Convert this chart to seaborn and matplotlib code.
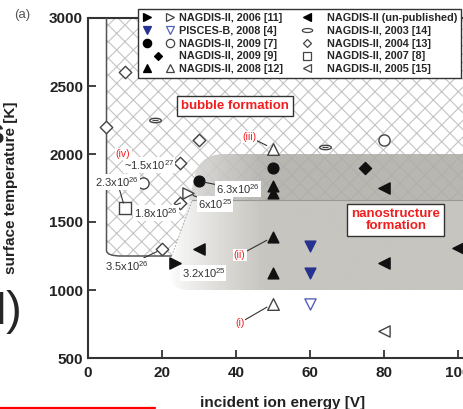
import numpy as np
import matplotlib.pyplot as plt
import seaborn as sns
from matplotlib.path import Path
from matplotlib.patches import PathPatch, Rectangle
from matplotlib.lines import Line2D
from matplotlib.legend_handler import HandlerTuple
from matplotlib.colors import LinearSegmentedColormap

# --- data (incident ion energy [V], surface temperature [K]) ---
n2006_fill_x, n2006_fill_y = [23.5], [1200]
n2006_open_x, n2006_open_y = [27], [1710]
pisces_fill_x, pisces_fill_y = [60, 60], [1320, 1125]
pisces_open_x, pisces_open_y = [60], [900]
n2009a_fill_x, n2009a_fill_y = [30, 50], [1800, 1895]
n2009a_open_x, n2009a_open_y = [15, 80], [1790, 2100]
n2009b_x, n2009b_y = [75], [1900]
n2008_fill_x, n2008_fill_y = [50, 50, 50, 50], [1765, 1715, 1390, 1125]
n2008_open_x, n2008_open_y = [50, 50], [2040, 900]
unpub_x, unpub_y = [30, 80, 80, 100], [1300, 1750, 1200, 1310]
n2003_x, n2003_y = [18, 64], [2250, 2050]
n2004_x, n2004_y = [10, 5, 30, 25, 25, 20], [2600, 2200, 2100, 1935, 1640, 1300]
n2007_x, n2007_y = [10], [1600]
n2005_x, n2005_y = [80], [700]

legend_col1 = ["NAGDIS-II, 2006 [11]", "PISCES-B, 2008 [4]", "NAGDIS-II, 2009 [7]",
               "NAGDIS-II, 2009 [9]", "NAGDIS-II, 2008 [12]"]
legend_col2 = ["NAGDIS-II (un-published)", "NAGDIS-II, 2003 [14]", "NAGDIS-II, 2004 [13]",
               "NAGDIS-II, 2007 [8]", "NAGDIS-II, 2005 [15]"]

# flux labels: text, text position, marker position
flux_labels = [
    ("~1.5x10$^{27}$", (16.5, 1920), None),
    ("2.3x10$^{26}$", (7.9, 1795), (10, 1600)),
    ("1.8x10$^{26}$", (18.4, 1567), (25, 1640)),
    ("6x10$^{25}$", (34.3, 1633), (27, 1710)),
    ("6.3x10$^{26}$", (40.6, 1743), (30, 1800)),
    ("3.5x10$^{26}$", (10.5, 1177), (20, 1300)),
    ("3.2x10$^{25}$", (31.2, 1126), (23.5, 1200)),
]
case_labels = [
    ("(iv)", (9.5, 2000), None),
    ("(iii)", (43.6, 2125), (50, 2040)),
    ("(ii)", (41, 1258), (50, 1390)),
    ("(i)", (41, 758), (50, 900)),
]

sns.set_style("ticks")
plt.rcParams['font.family'] = ['Liberation Sans', 'DejaVu Sans']
plt.rcParams['mathtext.fontset'] = 'custom'
plt.rcParams['mathtext.rm'] = 'Liberation Sans'
plt.rcParams['hatch.linewidth'] = 0.8

fig = plt.figure(figsize=(4.64, 4.09), dpi=100)
ax = fig.add_axes([88 / 464, 51 / 409, 388.5 / 464, 340 / 409])

RED = '#f01e1e'
DARK = '#222222'
BLUE = '#27318f'

# bubble formation region (cross hatched), drawn under the grey region
bub_path = Path(
    [(5, 3100), (5, 1290), (5, 1250), (9, 1250), (22.6, 1250), (28.2, 1660),
     (140, 1660), (140, 3100), (5, 3100)],
    [Path.MOVETO, Path.LINETO, Path.CURVE3, Path.CURVE3, Path.LINETO, Path.LINETO,
     Path.LINETO, Path.LINETO, Path.CLOSEPOLY])
ax.add_patch(PathPatch(bub_path, facecolor='none', edgecolor='#c4c4c4', lw=0,
                       hatch='xx', zorder=0.5))

# nanostructure region (gradient, rounded left side)
nano_path = Path(
    [(22.2, 1150), (21.6, 1000), (27, 1000), (140, 1000), (140, 2000),
     (37, 2000), (29.2, 2000), (28.5, 1790), (22.2, 1150)],
    [Path.MOVETO, Path.CURVE3, Path.CURVE3, Path.LINETO, Path.LINETO,
     Path.LINETO, Path.CURVE3, Path.CURVE3, Path.CLOSEPOLY])
nano_patch = PathPatch(nano_path, facecolor='none', edgecolor='none', zorder=1)
ax.add_patch(nano_patch)
cmap = LinearSegmentedColormap.from_list('g', ['#ffffff', '#bfbdb7'])
gx = np.linspace(20, 110, 400)
ramp = np.clip((gx - 22) / 26, 0, 1) ** 0.8
img = ax.imshow(ramp[None, :], extent=(20, 110, 1000, 2000), cmap=cmap, vmin=0, vmax=1,
                aspect='auto', origin='lower', interpolation='bilinear', zorder=1, alpha=0.88)
img.set_clip_path(nano_patch)

band = Rectangle((20, 1660), 120, 340, facecolor='black', alpha=0.07, lw=0, zorder=2)
ax.add_patch(band)
band.set_clip_path(nano_patch)
ax.plot([28.2, 140], [1660, 1660], color='#9a9893', lw=0.8, zorder=2)
ax.plot([22.6, 28.2], [1250, 1660], color='#a0a0a0', lw=0.6, ls=(0, (2, 2)), zorder=2)
out = Path([(22.6, 1250), (9, 1250), (5, 1250), (5, 1290), (5, 3000)],
           [Path.MOVETO, Path.LINETO, Path.CURVE3, Path.CURVE3, Path.LINETO])
ax.add_patch(PathPatch(out, facecolor='none', edgecolor='#555555', lw=1.1, zorder=3))

# markers
t = np.linspace(0, 2 * np.pi, 25)
flat = Path(np.column_stack([np.cos(t), 0.38 * np.sin(t)]), closed=True)
series = [
    (n2006_fill_x, n2006_fill_y, '>', '#111111', '#111111', 65),
    (n2006_open_x, n2006_open_y, '>', 'white', '#444444', 65),
    (pisces_fill_x, pisces_fill_y, 'v', BLUE, BLUE, 60),
    (pisces_open_x, pisces_open_y, 'v', 'white', '#5560b8', 65),
    (n2009a_fill_x, n2009a_fill_y, 'o', '#111111', '#111111', 60),
    (n2009a_open_x, n2009a_open_y, 'o', 'white', '#444444', 65),
    (n2009b_x, n2009b_y, 'D', '#111111', '#111111', 38),
    (n2008_fill_x, n2008_fill_y, '^', '#111111', '#111111', 60),
    (n2008_open_x, n2008_open_y, '^', 'white', '#444444', 70),
    (unpub_x, unpub_y, '<', '#111111', '#111111', 65),
    (n2003_x, n2003_y, flat, 'white', '#444444', 70),
    (n2004_x, n2004_y, 'D', 'white', '#444444', 40),
    (n2007_x, n2007_y, 's', 'white', '#444444', 70),
    (n2005_x, n2005_y, '<', 'white', '#444444', 65),
]
for xs, ys, m, fc, ec, s in series:
    sns.scatterplot(x=xs, y=ys, marker=m, color=fc, edgecolor=ec, linewidth=1.0,
                    s=s, ax=ax, zorder=5, legend=False)
# centre stroke of the flat 2003 markers
sns.scatterplot(x=n2003_x, y=n2003_y, marker='_', color='#444444', linewidth=0.9,
                s=25, ax=ax, zorder=5.5, legend=False)

# annotations
for txt, pos, tip in flux_labels:
    kw = dict(arrowprops=dict(arrowstyle='-', color='#333333', lw=0.8, shrinkA=0, shrinkB=4)) if tip else {}
    ax.annotate(txt, xy=tip if tip else pos, xytext=pos, ha='center', va='center',
                fontsize=8, color='#333333', zorder=6,
                bbox=dict(boxstyle='square,pad=0.1', fc='white', ec='none'), **kw)
for txt, pos, tip in case_labels:
    kw = dict(arrowprops=dict(arrowstyle='-', color='#333333', lw=0.8, shrinkA=0, shrinkB=5)) if tip else {}
    ax.annotate(txt, xy=tip if tip else pos, xytext=pos, ha='center', va='center',
                fontsize=7.5, color=RED, zorder=6,
                bbox=dict(boxstyle='square,pad=0.1', fc='white', ec='none'), **kw)

ax.text(39.7, 2353, "bubble formation", color=RED, fontsize=9.5, weight='bold',
        ha='center', va='center', zorder=6,
        bbox=dict(boxstyle='square,pad=0.3', fc='white', ec='#333333', lw=1))
ax.text(83.2, 1515, "nanostructure\nformation", color=RED, fontsize=9.5, weight='bold',
        ha='center', va='center', linespacing=1.05, zorder=6,
        bbox=dict(boxstyle='square,pad=0.3', fc='white', ec='#333333', lw=1))

# legend
def mk(m, fc, ec, ms=6):
    return Line2D([], [], ls='none', marker=m, markerfacecolor=fc, markeredgecolor=ec,
                  markersize=ms, markeredgewidth=0.9)

handles = [
    (mk('>', 'k', 'k'), mk('>', 'white', '#444444')),
    (mk('v', BLUE, BLUE), mk('v', 'white', '#5560b8')),
    (mk('o', 'k', 'k'), mk('o', 'white', '#444444')),
    mk('D', 'k', 'k', 4.5),
    (mk('^', 'k', 'k'), mk('^', 'white', '#444444')),
    mk('<', 'k', 'k'),
    mk(flat, 'white', '#444444', 7.5),
    mk('D', 'white', '#444444', 4.5),
    mk('s', 'white', '#444444'),
    mk('<', 'white', '#444444'),
]
leg = ax.legend(handles, legend_col1 + legend_col2, ncol=2, loc='upper left',
                bbox_to_anchor=(0.129, 1.026), borderaxespad=0,
                handler_map={tuple: HandlerTuple(ndivide=None, pad=1.2)},
                prop=dict(weight='bold', size=7.8), handlelength=3.0, handletextpad=0.4,
                columnspacing=0.7, labelspacing=0.26, borderpad=0.35,
                frameon=True, fancybox=False, edgecolor='#333333', framealpha=1)
leg.get_frame().set_linewidth(1.0)
leg.set_zorder(10)

# axes
ax.set_xlim(0, 105)
ax.set_ylim(500, 3000)
ax.set_xticks([0, 20, 40, 60, 80, 100])
ax.set_yticks([500, 1000, 1500, 2000, 2500, 3000])
for side in ['left', 'bottom', 'top']:
    ax.spines[side].set_linewidth(1.5)
    ax.spines[side].set_color('#333333')
ax.spines['right'].set_visible(False)
ax.spines['top'].set_visible(True)
ax.tick_params(axis='both', direction='in', length=6, width=1.3, color='#333333',
               labelsize=11, labelcolor=DARK)
ax.tick_params(axis='x', pad=6)
ax.tick_params(axis='y', pad=3.5)
for lab in ax.get_xticklabels() + ax.get_yticklabels():
    lab.set_fontweight('bold')
ax.set_xlabel("incident ion energy [V]", fontsize=11, weight='bold', color=DARK)
ax.set_ylabel("surface temperature [K]", fontsize=11, weight='bold', color=DARK)
ax.xaxis.set_label_coords(0.5, -0.112)
ax.yaxis.set_label_coords(-0.18, 0.5)

# slide fragments around the chart
fig.text(22 / 464, 1 - 15 / 409, "(a)", ha='center', va='center', fontsize=9.5, color='#555555')
fig.text(5 / 464, 1 - 135 / 409, "s", ha='right', va='center', fontsize=26, weight='bold')
fig.text(22 / 464, 1 - 312 / 409, "H)", ha='right', va='center', fontsize=34)
fig.add_artist(Line2D([0, 155 / 464], [1 - 407.5 / 409] * 2, color='red', lw=1.6,
                      transform=fig.transFigure))

fig.savefig("out.png", dpi=100)
